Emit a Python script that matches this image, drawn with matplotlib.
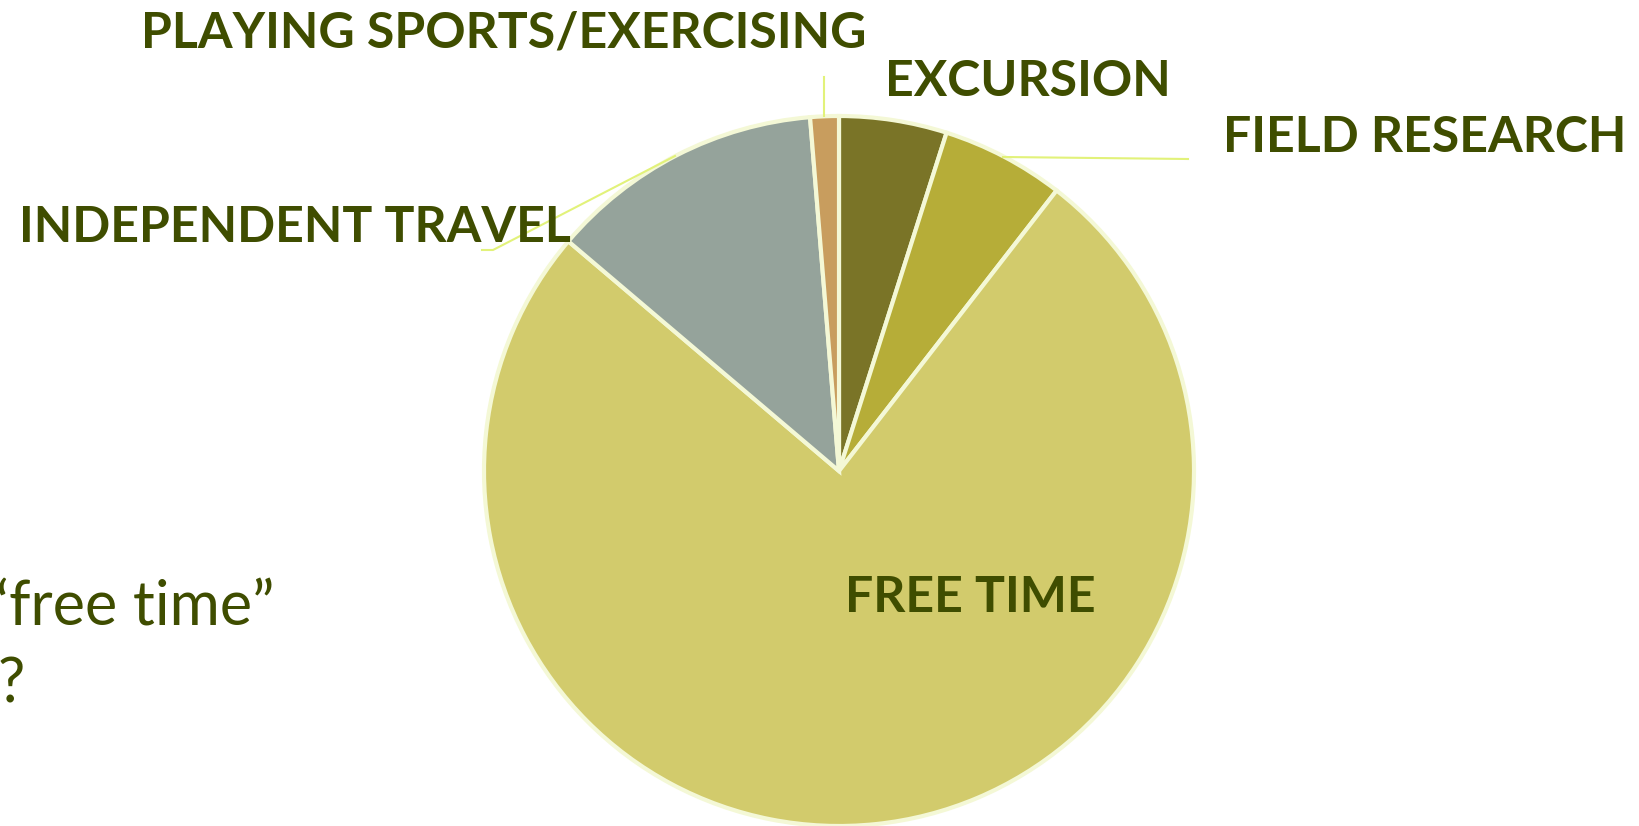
import matplotlib.pyplot as plt

# slices, clockwise from 12 o'clock
labels = ["EXCURSION", "FIELD RESEARCH", "FREE TIME", "INDEPENDENT TRAVEL",
          "PLAYING SPORTS/EXERCISING"]
shares = [4.9, 5.6, 75.7, 12.5, 1.3]
colors = ["#7a7427", "#b6ad38", "#d2cb6c", "#95a39b", "#c89d5e"]

W, H = 1639, 826
txt = "#3f4d00"
lead = "#e2f27a"

fig = plt.figure(figsize=(W / 100, H / 100), dpi=100)
ax = fig.add_axes([0, 0, 1, 1])

cx, cy, r = 839, H - 471, 355
ax.pie(shares, colors=colors, startangle=90, counterclock=False,
       center=(cx, cy), radius=r, frame=True,
       wedgeprops=dict(edgecolor="#f4f8d6", linewidth=3))
ax.set_xlim(0, W)
ax.set_ylim(0, H)
ax.set_aspect("equal")
ax.axis("off")

font = dict(family=["Lato", "DejaVu Sans"], fontweight="bold", color=txt,
            fontsize=36)

# leader lines
ax.plot([824, 824], [H - 77, H - 116], color=lead, lw=1.5)
ax.plot([1003, 1188], [H - 157, H - 159], color=lead, lw=1.5)
ax.plot([675, 493, 482], [H - 156, H - 250, H - 250], color=lead, lw=1.5)

ax.text(504, H - 33, labels[4], ha="center", va="center", **font)
ax.text(1028, H - 82, labels[0], ha="center", va="center", **font)
ax.text(1425, H - 138, labels[1], ha="center", va="center", **font)
ax.text(295, H - 227, labels[3], ha="center", va="center", **font)
ax.text(970, H - 598, labels[2], ha="center", va="center", **font)

ax.text(-4, H - 608, "\u2018free time\u201d", ha="left", va="center",
        family=["Lato", "DejaVu Sans"], color=txt, fontsize=44)
ax.text(-2, H - 685, "?", ha="left", va="center",
        family=["Lato", "DejaVu Sans"], color=txt, fontsize=44)

fig.savefig("out.png", dpi=100)
